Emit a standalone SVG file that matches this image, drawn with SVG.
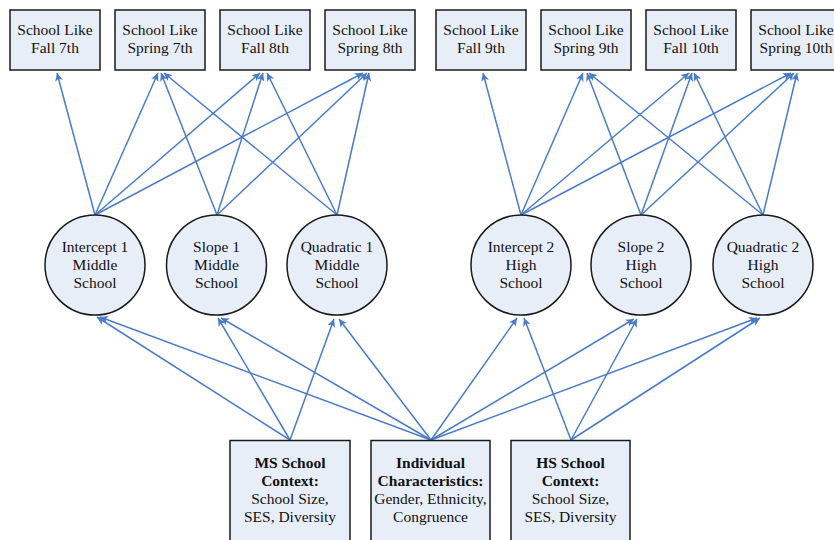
<svg xmlns="http://www.w3.org/2000/svg" width="834" height="540" viewBox="0 0 834 540">
<defs>
<style>
.box{fill:#E8EEF8;stroke:#1a1a1a;stroke-width:1.5}
.t{font-family:"Liberation Serif","Times New Roman",serif;font-size:15.5px;fill:#111;text-anchor:middle}
.b{font-weight:bold}
.c line{stroke:#4A7BC8;stroke-width:1.5;marker-end:url(#ah)}
</style>
<marker id="ah" viewBox="0 0 10 10" refX="10" refY="5" markerWidth="9" markerHeight="8" markerUnits="userSpaceOnUse" orient="auto">
<path d="M0,0 L10,5 L0,10 L2.5,5 Z" fill="#4A7BC8"/>
</marker>
</defs>
<rect width="834" height="540" fill="#fff"/>

<g class="c" id="connectors">
<line x1="95" y1="215" x2="57" y2="73"/>
<line x1="95" y1="215" x2="158" y2="73"/>
<line x1="95" y1="215" x2="260" y2="73"/>
<line x1="95" y1="215" x2="363" y2="73"/>
<line x1="217" y1="215" x2="161" y2="73"/>
<line x1="217" y1="215" x2="263" y2="73"/>
<line x1="217" y1="215" x2="367" y2="73"/>
<line x1="337" y1="215" x2="164" y2="73"/>
<line x1="337" y1="215" x2="267" y2="73"/>
<line x1="337" y1="215" x2="369" y2="73"/>
<line x1="521" y1="215" x2="483" y2="73"/>
<line x1="521" y1="215" x2="583" y2="73"/>
<line x1="521" y1="215" x2="689" y2="73"/>
<line x1="521" y1="215" x2="791" y2="73"/>
<line x1="641" y1="215" x2="587" y2="73"/>
<line x1="641" y1="215" x2="692" y2="73"/>
<line x1="641" y1="215" x2="794" y2="73"/>
<line x1="763" y1="215" x2="589" y2="73"/>
<line x1="763" y1="215" x2="694" y2="73"/>
<line x1="763" y1="215" x2="797" y2="73"/>
<line x1="290" y1="440" x2="97" y2="317"/>
<line x1="290" y1="440" x2="218" y2="318"/>
<line x1="290" y1="440" x2="334" y2="319"/>
<line x1="431" y1="440" x2="100" y2="317"/>
<line x1="431" y1="440" x2="221" y2="318"/>
<line x1="431" y1="440" x2="339" y2="319"/>
<line x1="431" y1="440" x2="517" y2="318"/>
<line x1="431" y1="440" x2="634" y2="319"/>
<line x1="431" y1="440" x2="757" y2="318"/>
<line x1="571" y1="440" x2="524" y2="318"/>
<line x1="571" y1="440" x2="637" y2="319"/>
<line x1="571" y1="440" x2="760" y2="318"/>
</g>

<g id="fall7"><rect class="box" x="10" y="10" width="90" height="60"/><text class="t" x="55" y="35">School Like</text><text class="t" x="55" y="53">Fall 7th</text></g>
<g id="spring7"><rect class="box" x="115" y="10" width="90" height="60"/><text class="t" x="160" y="35">School Like</text><text class="t" x="160" y="53">Spring 7th</text></g>
<g id="fall8"><rect class="box" x="220" y="10" width="90" height="60"/><text class="t" x="265" y="35">School Like</text><text class="t" x="265" y="53">Fall 8th</text></g>
<g id="spring8"><rect class="box" x="325" y="10" width="90" height="60"/><text class="t" x="370" y="35">School Like</text><text class="t" x="370" y="53">Spring 8th</text></g>
<g id="fall9"><rect class="box" x="436" y="10" width="90" height="60"/><text class="t" x="481" y="35">School Like</text><text class="t" x="481" y="53">Fall 9th</text></g>
<g id="spring9"><rect class="box" x="541" y="10" width="90" height="60"/><text class="t" x="586" y="35">School Like</text><text class="t" x="586" y="53">Spring 9th</text></g>
<g id="fall10"><rect class="box" x="646" y="10" width="90" height="60"/><text class="t" x="691" y="35">School Like</text><text class="t" x="691" y="53">Fall 10th</text></g>
<g id="spring10"><rect class="box" x="751" y="10" width="90" height="60"/><text class="t" x="796" y="35">School Like</text><text class="t" x="796" y="53">Spring 10th</text></g>

<g id="int1"><circle class="box" cx="95" cy="265" r="50"/><text class="t" x="95" y="252">Intercept 1</text><text class="t" x="95" y="270">Middle</text><text class="t" x="95" y="288">School</text></g>
<g id="slope1"><circle class="box" cx="216.5" cy="265" r="50"/><text class="t" x="216.5" y="252">Slope 1</text><text class="t" x="216.5" y="270">Middle</text><text class="t" x="216.5" y="288">School</text></g>
<g id="quad1"><circle class="box" cx="337" cy="265" r="50"/><text class="t" x="337" y="252">Quadratic 1</text><text class="t" x="337" y="270">Middle</text><text class="t" x="337" y="288">School</text></g>
<g id="int2"><circle class="box" cx="521" cy="265" r="50"/><text class="t" x="521" y="252">Intercept 2</text><text class="t" x="521" y="270">High</text><text class="t" x="521" y="288">School</text></g>
<g id="slope2"><circle class="box" cx="641" cy="265" r="50"/><text class="t" x="641" y="252">Slope 2</text><text class="t" x="641" y="270">High</text><text class="t" x="641" y="288">School</text></g>
<g id="quad2"><circle class="box" cx="763" cy="265" r="50"/><text class="t" x="763" y="252">Quadratic 2</text><text class="t" x="763" y="270">High</text><text class="t" x="763" y="288">School</text></g>

<g id="ms"><rect class="box" x="230" y="440.5" width="120" height="110"/><text class="t b" x="290" y="468">MS School</text><text class="t b" x="290" y="486">Context:</text><text class="t" x="290" y="504">School Size,</text><text class="t" x="290" y="522">SES, Diversity</text></g>
<g id="ind"><rect class="box" x="371" y="440.5" width="119" height="110"/><text class="t b" x="430.5" y="468">Individual</text><text class="t b" x="430.5" y="486">Characteristics:</text><text class="t" x="430.5" y="504">Gender, Ethnicity,</text><text class="t" x="430.5" y="522">Congruence</text></g>
<g id="hs"><rect class="box" x="511" y="440.5" width="119" height="110"/><text class="t b" x="570.5" y="468">HS School</text><text class="t b" x="570.5" y="486">Context:</text><text class="t" x="570.5" y="504">School Size,</text><text class="t" x="570.5" y="522">SES, Diversity</text></g>
</svg>
